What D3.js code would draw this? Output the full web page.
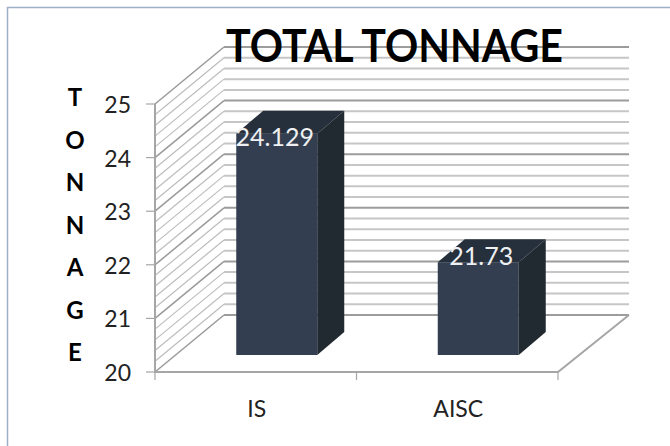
<!DOCTYPE html>
<html>
<head>
<meta charset="utf-8">
<script src="https://d3js.org/d3.v7.min.js"></script>
<style>
  html, body { margin: 0; padding: 0; background: #fff; }
  text { font-family: Lato, "Open Sans", sans-serif; }
</style>
</head>
<body>
<svg id="chart" width="670" height="446" style="display:block"></svg>
<script>
const categories = ["IS", "AISC"];
const tonnage = [24.129, 21.73];
const valueLabels = ["24.129", "21.73"];
const yDomain = [20, 25];
const majorTicks = [20, 21, 22, 23, 24, 25];
const minorTicks = d3.range(20, 25.01, 0.2).map(v => +v.toFixed(1));
const axisTitle = ["T", "O", "N", "N", "A", "G", "E"];
const chartTitle = "TOTAL TONNAGE";

const svg = d3.select("#chart");

// Front plane of the 3D box and the oblique offset to its back wall
const front = { left: 155, right: 558, bottom: 372, top: 104 };
const wallDx = 69, wallDy = -57;
const backRight = front.right + wallDx + 2;
const barOffsetDx = 21, barOffsetDy = -17;
const barDepthDx = 27, barDepthDy = -23;

const y = d3.scaleLinear().domain(yDomain).range([front.bottom, front.top]);
const x = d3.scaleBand().domain(categories).range([front.left, front.right]).padding(0);
const barWidth = 81;

// Slide frame: only the top and left edges are visible
svg.append("path")
  .attr("d", d3.line()([[7.5, 446], [7.5, 7.5], [670, 7.5]]))
  .attr("fill", "none").attr("stroke", "#9fb0c6").attr("stroke-width", 1.5);

// Gridlines run up the side wall, then across the back wall
const isMajor = v => Number.isInteger(v);
const grid = svg.append("g").attr("fill", "none");
grid.selectAll(".side").data(minorTicks).join("line")
  .attr("x1", front.left).attr("y1", v => y(v))
  .attr("x2", front.left + wallDx).attr("y2", v => y(v) + wallDy)
  .attr("stroke", v => isMajor(v) ? "#9a9a9a" : "#bdbdbd")
  .attr("stroke-width", v => isMajor(v) ? 1.5 : 1.2);
grid.selectAll(".back").data(minorTicks).join("line")
  .attr("x1", front.left + wallDx).attr("y1", v => y(v) + wallDy)
  .attr("x2", backRight).attr("y2", v => y(v) + wallDy)
  .attr("stroke", v => isMajor(v) ? "#9c9c9c" : "#c6c6c6")
  .attr("stroke-width", 2);

// Floor edges and the two axes
const axes = svg.append("g").attr("fill", "none").attr("stroke", "#a6a6a6");
axes.append("path")
  .attr("stroke-width", 2)
  .attr("d", d3.line()([[front.left, front.top], [front.left, front.bottom], [front.right, front.bottom], [backRight, front.bottom + wallDy]]));
axes.selectAll(".ytick").data(majorTicks).join("line")
  .attr("x1", front.left - 9).attr("x2", front.left)
  .attr("y1", d => y(d)).attr("y2", d => y(d)).attr("stroke-width", 1.2);
axes.selectAll(".xtick").data([front.left, x("AISC"), front.right]).join("line")
  .attr("x1", d => d).attr("x2", d => d)
  .attr("y1", front.bottom).attr("y2", front.bottom + 8).attr("stroke-width", 1.2);

// Bars: front, top and side faces
const bars = svg.append("g").selectAll("g")
  .data(categories.map((c, i) => ({ c, v: tonnage[i], label: valueLabels[i] })))
  .join("g");
const barLeft = d => x(d.c) + (x.bandwidth() - barWidth) / 2 + barOffsetDx;
const barTop = d => y(d.v) + barOffsetDy;
const barBase = y(yDomain[0]) + barOffsetDy;

bars.append("rect")
  .attr("x", barLeft).attr("y", barTop)
  .attr("width", barWidth).attr("height", d => barBase - barTop(d))
  .attr("fill", "#333e50");
bars.append("path").attr("fill", "#262f3c").attr("d", d => {
  const l = barLeft(d), t = barTop(d);
  return d3.line()([[l, t], [l + barDepthDx, t + barDepthDy], [l + barWidth + barDepthDx, t + barDepthDy], [l + barWidth, t]]) + "Z";
});
bars.append("path").attr("fill", "#212931").attr("d", d => {
  const r = barLeft(d) + barWidth, t = barTop(d);
  return d3.line()([[r, t], [r + barDepthDx, t + barDepthDy], [r + barDepthDx, barBase + barDepthDy], [r, barBase]]) + "Z";
});

// Value labels sit where the top face meets the front face
bars.append("text")
  .attr("x", d => barLeft(d) + barWidth / 2 + (d.c === "IS" ? -2 : 3))
  .attr("y", d => barTop(d) + (d.c === "IS" ? 12 : 3))
  .attr("text-anchor", "middle")
  .attr("fill", "#eef0f2").attr("font-size", 25)
  .text(d => d.label);

// Axis labels
svg.append("g").selectAll("text").data(majorTicks).join("text")
  .attr("x", 131).attr("y", d => y(d) + 1).attr("dy", "0.35em")
  .attr("text-anchor", "end").attr("font-size", 23).attr("fill", "#222")
  .text(d => d);

svg.append("g").selectAll("text").data(categories).join("text")
  .attr("x", d => x(d) + x.bandwidth() / 2 + 1).attr("y", 417)
  .attr("text-anchor", "middle").attr("font-size", 23).attr("fill", "#222")
  .text(d => d);

svg.append("g").selectAll("text").data(axisTitle).join("text")
  .attr("x", 75).attr("y", (d, i) => 106 + i * 42.5)
  .attr("text-anchor", "middle").attr("font-size", 24).attr("font-weight", 700).attr("fill", "#000")
  .text(d => d);

svg.append("text")
  .attr("x", 394.5).attr("y", 62).attr("text-anchor", "middle")
  .attr("font-size", 46).attr("font-weight", 700).attr("fill", "#000")
  .attr("textLength", 337).attr("lengthAdjust", "spacingAndGlyphs")
  .text(chartTitle);
</script>
</body>
</html>
